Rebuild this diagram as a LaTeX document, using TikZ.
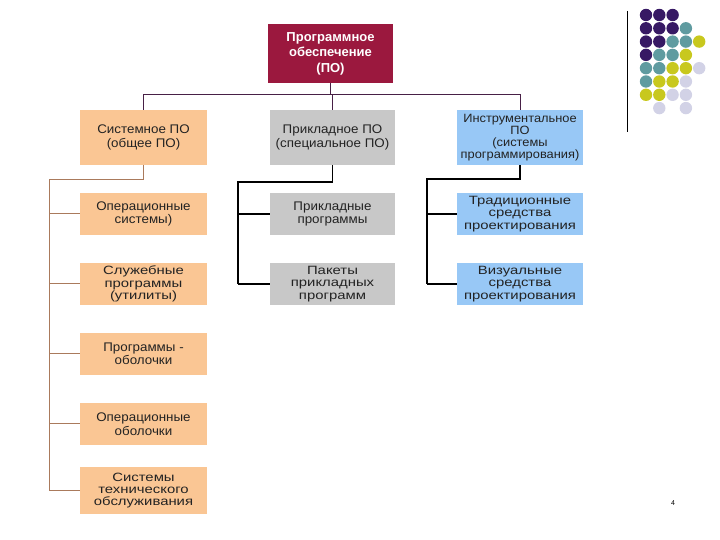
\documentclass[tikz,border=0pt]{standalone}
\usepackage{fontspec}
\setmainfont{Liberation Sans}
\newfontfamily\boxfont[FakeStretch=1.07]{Liberation Sans}
\newfontfamily\wideboxfont[FakeStretch=1.24]{Liberation Sans}
\usepackage{xcolor}
\definecolor{colorTop}{RGB}{155,24,62}
\definecolor{colorSystem}{RGB}{250,198,148}
\definecolor{colorApplied}{RGB}{200,200,200}
\definecolor{colorTool}{RGB}{152,200,246}
\definecolor{colorSysLine}{RGB}{170,122,92}
\definecolor{colorBus}{RGB}{72,32,70}
\definecolor{colorText}{RGB}{35,35,35}
\definecolor{dotPurple}{RGB}{55,25,100}
\definecolor{dotTeal}{RGB}{95,155,160}
\definecolor{dotYellow}{RGB}{200,200,30}
\definecolor{dotLilac}{RGB}{210,210,230}
\usepackage{tikz}
\usetikzlibrary{positioning}
\tikzset{box/.style={rectangle, align=center, inner sep=1pt, outer sep=0pt, text=colorText,
    minimum width=127pt, minimum height=42pt, font=\boxfont\fontsize{12.5}{13.5}\selectfont}}

\begin{document}
\begin{tikzpicture}[x=1pt, y=1pt, node distance=28pt, line width=1pt,
  head/.style={box, minimum height=55pt},
  small/.style={font=\wideboxfont\fontsize{12}{12.5}\selectfont},
  dot/.style={radius=6.2pt}]
\useasboundingbox (0,0) rectangle (720,540);
% top node
\node[box, fill=colorTop, text=white, minimum width=125pt, minimum height=59pt, font=\bfseries\fontsize{13}{15.5}\selectfont] (po) at (330.5,486.5) {Программное\\обеспечение\\(ПО)};
% column heads
\node[head, fill=colorSystem] (sys) at (143.5,402.5) {Системное ПО\\(общее ПО)};
\node[head, fill=colorApplied, minimum width=125pt] (app) at (332.5,402.5) {Прикладное ПО\\(специальное ПО)};
\node[head, fill=colorTool, minimum width=126pt, font=\boxfont\fontsize{12}{12}\selectfont] (tool) at (520,402.5) {Инструментальное\\ПО\\(системы\\программирования)};
% system software
\node[box, fill=colorSystem, below=of sys] (sysOS) {Операционные\\системы)};
\node[box, small, fill=colorSystem, below=of sysOS] (sysUtil) {Служебные\\программы\\(утилиты)};
\node[box, fill=colorSystem, below=of sysUtil] (sysShell) {Программы -\\оболочки};
\node[box, fill=colorSystem, below=of sysShell] (sysOpShell) {Операционные\\оболочки};
\node[box, small, fill=colorSystem, minimum height=47pt, font=\wideboxfont\fontsize{12}{12}\selectfont, below=22pt of sysOpShell] (sysTech) {Системы\\технического\\обслуживания};
% applied software
\node[box, fill=colorApplied, minimum width=125pt, below=of app] (appProg) {Прикладные\\программы};
\node[box, small, fill=colorApplied, minimum width=125pt, below=of appProg] (appPack) {Пакеты\\прикладных\\программ};
% tools
\node[box, small, fill=colorTool, minimum width=126pt, below=of tool] (toolTrad) {Традиционные\\средства\\проектирования};
\node[box, small, fill=colorTool, minimum width=126pt, below=of toolTrad] (toolVis) {Визуальные\\средства\\проектирования};
% connectors
\draw[colorBus] (po.south) -- ++(0,-12) -| (sys.north);
\draw[colorBus] (po.south) -- ++(0,-12) -| (app.north);
\draw[colorBus] (po.south) -- ++(0,-12) -| (tool.north);
\coordinate (sysBend) at (49,360);
\coordinate (appBend) at (238,358);
\coordinate (toolBend) at (427,361);
\draw[colorSysLine] (sys.south) |- (sysBend) -- (sysBend |- sysTech.west);
\foreach \n in {sysOS, sysUtil, sysShell, sysOpShell, sysTech}
  \draw[colorSysLine] (sysBend |- \n.west) -- (\n.west);
\draw[black, line width=1.2pt] (app.south) |- (appBend) -- (appBend |- appPack.west);
\foreach \n in {appProg, appPack}
  \draw[black, line width=1.2pt] (appBend |- \n.west) -- (\n.west);
\draw[black, line width=1.2pt] (tool.south) |- (toolBend) -- (toolBend |- toolVis.west);
\foreach \n in {toolTrad, toolVis}
  \draw[black, line width=1.2pt] (toolBend |- \n.west) -- (\n.west);
% corner decoration
\draw[black] (627,529) -- (627,408);
\foreach \i/\j in {0/0,1/0,2/0,0/1,1/1,2/1,0/2,1/2,0/3}
  \fill[dotPurple] (646+13.3*\i,525-13.3*\j) circle[dot];
\foreach \i/\j in {3/1,2/2,3/2,1/3,2/3,0/4,1/4,0/5}
  \fill[dotTeal] (646+13.3*\i,525-13.3*\j) circle[dot];
\foreach \i/\j in {4/2,3/3,2/4,3/4,1/5,2/5,0/6,1/6}
  \fill[dotYellow] (646+13.3*\i,525-13.3*\j) circle[dot];
\foreach \i/\j in {4/4,3/5,2/6,3/6,1/7,3/7}
  \fill[dotLilac] (646+13.3*\i,525-13.3*\j) circle[dot];
\node[font=\fontsize{7}{8}\selectfont, inner sep=0pt] (page) at (673,37) {4};
\end{tikzpicture}
\end{document}
